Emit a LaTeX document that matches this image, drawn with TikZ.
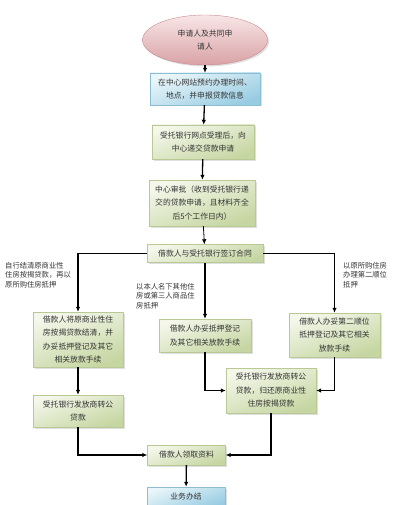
\documentclass[tikz,border=0pt]{standalone}
\usepackage{fontspec}
\newfontfamily\cjk{Noto Sans CJK SC}
\usetikzlibrary{shapes.geometric,arrows.meta,shadows}
\definecolor{gtop}{HTML}{F4F7EA}
\definecolor{gbot}{HTML}{C6D6A2}
\definecolor{gline}{HTML}{B9C995}
\definecolor{btop}{HTML}{EAF6FA}
\definecolor{bbot}{HTML}{98CCE2}
\definecolor{bline}{HTML}{8CBDD2}
\definecolor{ptop}{HTML}{F8E6E6}
\definecolor{pbot}{HTML}{D9A2A6}
\definecolor{pline}{HTML}{C88C90}
\definecolor{txt}{HTML}{333333}
\tikzset{
  base/.style={rectangle, inner sep=0pt, align=center, text=txt,
    font=\cjk\fontsize{7.8}{13.5}\selectfont,
    drop shadow={opacity=0.25, shadow xshift=1.5pt, shadow yshift=-1.5pt}},
  gbox/.style={base, draw=gline, top color=gtop, bottom color=gbot, shading angle=20},
  bbox/.style={base, draw=bline, top color=btop, bottom color=bbot, shading angle=20},
  pell/.style={base, ellipse, draw=pline, top color=ptop, bottom color=pbot},
  lbl/.style={inner sep=0pt, align=left, text=txt, font=\cjk\fontsize{7.3}{9.5}\selectfont},
  conn/.style={line width=1.3pt, -{Latex[length=5pt,width=4.5pt]}},
}
\begin{document}
\begin{tikzpicture}[x=1pt,y=-1pt]
\useasboundingbox (0,0) rectangle (400,505);
\node[pell, minimum width=125pt, minimum height=50pt] (e1) at (205,40) {申请人及共同申\\请人};
\node[bbox, minimum width=110pt, minimum height=32pt] (b2) at (205,89) {在中心网站预约办理时间、\\地点，并申报贷款信息};
\node[gbox, minimum width=102pt, minimum height=34pt] (b3) at (203,142) {受托银行网点受理后，向\\中心递交贷款申请};
\node[gbox, minimum width=106pt, minimum height=46pt] (b4) at (202,203) {中心审批（收到受托银行递\\交的贷款申请，且材料齐全\\后5个工作日内）};
\node[gbox, minimum width=116pt, minimum height=18pt] (b5) at (205,253.5) {借款人与受托银行签订合同};
\node[gbox, minimum width=90pt, minimum height=55pt] (b6) at (78,339.5) {借款人将原商业性住\\房按揭贷款结清，并\\办妥抵押登记及其它\\相关放款手续};
\node[gbox, minimum width=92pt, minimum height=33pt] (b7) at (205,335.5) {借款人办妥抵押登记\\及其它相关放款手续};
\node[gbox, minimum width=91pt, minimum height=44pt] (b8) at (334.5,335) {借款人办妥第二顺位\\抵押登记及其它相关\\放款手续};
\node[gbox, minimum width=90pt, minimum height=32pt] (b9) at (78,411) {受托银行发放商转公\\贷款};
\node[gbox, minimum width=90pt, minimum height=45pt] (b10) at (271,390.5) {受托银行发放商转公\\贷款，归还原商业性\\住房按揭贷款};
\node[gbox, minimum width=78pt, minimum height=20pt] (b11) at (186.5,455) {借款人领取资料};
\node[bbox, minimum width=78pt, minimum height=20pt] (b12) at (186,497) {业务办结};
\node[lbl, anchor=north west] (l1) at (5,262) {自行结清原商业性\\住房按揭贷款，再以\\原所购住房抵押};
\node[lbl, anchor=north west] (l2) at (343,262) {以原所购住房\\办理第二顺位\\抵押};
\node[lbl, anchor=north west] (l3) at (136,283) {以本人名下其他住\\房或第三人商品住\\房抵押};
\draw[conn] (e1) -- (b2);
\draw[conn] (b2) -- (b3);
\draw[conn] (b3) -- (b4);
\draw[conn, line width=0.8pt] (b4) -- (b5);
\draw[conn] (b5.west) -| (b6.north);
\draw[conn] (b5.east) -| (b8.north);
\draw[conn] (b5.south) -- (b7.north);
\draw[conn] (b6) -- (b9);
\draw[conn] (b7.south) |- (b10.west);
\draw[conn] (b8.south) |- (b10.east);
\draw[conn] (b9.south) |- (b11.west);
\draw[conn] (b10.south) |- (b11.east);
\draw[conn] (b11) -- (b12);
\end{tikzpicture}
\end{document}
